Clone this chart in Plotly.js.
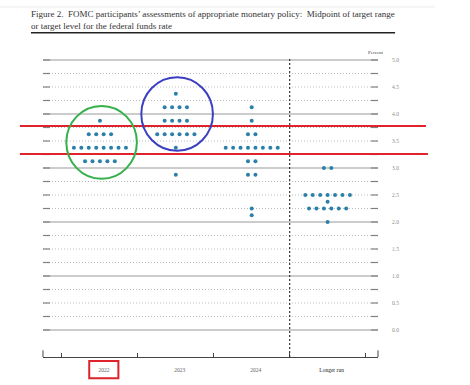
<!DOCTYPE html>
<html>
<head>
<meta charset="utf-8">
<script src="https://cdn.plot.ly/plotly-3.0.1.min.js"></script>
<style>html,body{margin:0;padding:0;background:#fff;}#chart{width:470px;height:385px;}</style>
</head>
<body>
<div id="chart"></div>
<script>
// ---- Data ----
const categories = ['2022', '2023', '2024', 'Longer run'];

const levels2022 = [3.125, 3.375, 3.625, 3.875];
const counts2022 = [5, 8, 4, 1];

const levels2023 = [2.875, 3.375, 3.625, 3.875, 4.125, 4.375];
const counts2023 = [1, 1, 6, 4, 4, 1];

const levels2024 = [2.125, 2.25, 2.875, 3.125, 3.375, 3.625, 3.875, 4.125];
const counts2024 = [1, 1, 2, 2, 8, 2, 1, 1];

const levelsLR = [2.0, 2.25, 2.375, 2.5, 3.0];
const countsLR = [1, 6, 1, 7, 2];

const yTickVals = [0, 0.5, 1, 1.5, 2, 2.5, 3, 3.5, 4, 4.5, 5];
const yTickText = ['0.0', '0.5', '1.0', '1.5', '2.0', '2.5', '3.0', '3.5', '4.0', '4.5', '5.0'];

const titleLine1 = 'Figure 2.  FOMC participants\u2019 assessments of appropriate monetary policy:  Midpoint of target range';
const titleLine2 = 'or target level for the federal funds rate';

// ---- Build dots ----
const allLevels = [levels2022, levels2023, levels2024, levelsLR];
const allCounts = [counts2022, counts2023, counts2024, countsLR];
const DOT_SP = 0.098;
const dx = [], dy = [];
allLevels.forEach((lv, i) => {
  lv.forEach((v, j) => {
    const n = allCounts[i][j];
    for (let k = 0; k < n; k++) {
      dx.push(i + (k - (n - 1) / 2) * DOT_SP);
      dy.push(v);
    }
  });
});

const SERIF = 'Liberation Serif, DejaVu Serif, serif';

// ---- Shapes ----
const shapes = [];
shapes.push({type:'line', xref:'paper', yref:'paper', x0:-0.13, x1:1.17, y0:1.159, y1:1.159,
  line:{color:'#ececec', width:1}, layer:'below'});
for (let g = 0; g <= 20; g++) {
  const v = g * 0.25;
  const isInt = (g % 4 === 0);
  shapes.push({type:'line', xref:'paper', yref:'y', x0:0, x1:1, y0:v, y1:v, layer:'below',
    line: isInt ? {color:'#9a9a9a', width:1.2} : {color:'#bdbdbd', width:1, dash:'1px,2px'}});
  shapes.push({type:'line', xref:'paper', yref:'y', x0:0, x1:0.021, y0:v, y1:v, layer:'below',
    line:{color:'#808080', width:1.2}});
  shapes.push({type:'line', xref:'paper', yref:'y', x0:0.979, x1:1, y0:v, y1:v, layer:'below',
    line:{color:'#808080', width:1.2}});
}
shapes.push({type:'line', xref:'paper', yref:'paper', x0:0, x1:0, y0:0, y1:0.022, line:{color:'#444', width:1}});
shapes.push({type:'line', xref:'paper', yref:'paper', x0:1, x1:1, y0:0, y1:0.022, line:{color:'#444', width:1}});
shapes.push({type:'line', xref:'x', yref:'paper', x0:2.5, x1:2.5, y0:0, y1:0.99,
  line:{color:'#333', width:1.2, dash:'2px,2px'}});
shapes.push({type:'line', xref:'paper', yref:'paper', x0:-0.036, x1:1.051, y0:1.074, y1:1.074,
  line:{color:'#222', width:1.5}});
shapes.push({type:'line', xref:'paper', yref:'y', x0:-0.069, x1:1.143, y0:3.78, y1:3.78,
  line:{color:'#e0222b', width:2}});
shapes.push({type:'line', xref:'paper', yref:'y', x0:-0.069, x1:1.149, y0:3.26, y1:3.26,
  line:{color:'#e0222b', width:2}});
shapes.push({type:'circle', xref:'x', yref:'y', x0:-0.443, x1:0.487, y0:2.80, y1:4.15,
  line:{color:'#35b04a', width:2}});
shapes.push({type:'circle', xref:'x', yref:'y', x0:0.545, x1:1.489, y0:3.32, y1:4.68,
  line:{color:'#3b3fc0', width:2}});
shapes.push({type:'rect', xref:'paper', yref:'paper', x0:0.138, x1:0.225, y0:-0.0705, y1:-0.013,
  line:{color:'#e0222b', width:2}});

const data = [{
  type:'scatter', mode:'markers', x:dx, y:dy,
  marker:{size:4, color:'#2a80a8'}, hoverinfo:'skip', showlegend:false
}];

const layout = {
  width:470, height:385,
  margin:{l:43, r:92, t:55, b:28, pad:0},
  paper_bgcolor:'#fff', plot_bgcolor:'#fff',
  showlegend:false,
  title:{text: titleLine1 + '<br>' + titleLine2, xref:'container', yref:'container',
    x:31/470, xanchor:'left', y:1 - 17/385, yanchor:'top',
    font:{family:SERIF, size:9, color:'#333'}},
  xaxis:{range:[-0.75, 3.664], tickmode:'array', tickvals:[0,1,2,3],
    ticktext: categories.map((c,i)=> i===3 ? '<span style="color:#222">'+c+'</span>' : c),
    ticks:'', showgrid:false, zeroline:false, showline:true, linecolor:'#444', linewidth:1,
    ticklabelshift:4, ticklabelstandoff:7,
    tickfont:{family:SERIF, size:5.5, color:'#666'},
    minor:{tickmode:'array', tickvals:[-0.5,0.5,1.5,2.5,3.5], ticks:'inside', ticklen:4,
      tickcolor:'#444', tickwidth:1, showgrid:false},
    fixedrange:true},
  yaxis:{range:[-0.5, 5.0926], side:'right', tickmode:'array', tickvals:yTickVals, ticktext:yTickText,
    ticks:'', showgrid:false, zeroline:false, showline:false, ticklabelstandoff:13,
    tickfont:{family:SERIF, size:5.5, color:'#8a8a8a'}, fixedrange:true},
  shapes: shapes,
  annotations:[{text:'Percent', xref:'paper', yref:'paper', x:(376-43)/335, y:(357-53)/302,
    xanchor:'center', yanchor:'middle', showarrow:false,
    font:{family:SERIF, size:5, color:'#444'}}]
};

Plotly.newPlot('chart', data, layout, {staticPlot:true, displayModeBar:false});
</script>
</body>
</html>
